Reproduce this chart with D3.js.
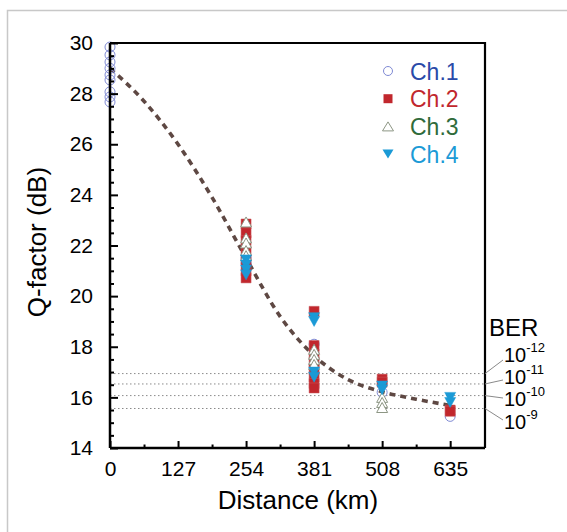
<!DOCTYPE html>
<html><head><meta charset="utf-8">
<script src="https://cdn.jsdelivr.net/npm/d3@7"></script>
<style>body{margin:0;background:#fff;}svg{display:block;font-family:"Liberation Sans",Arial,sans-serif;}</style>
</head><body>
<svg id="c" width="567" height="532"></svg>
<script>
// ---- data ----
const xTicks = [0, 127, 254, 381, 508, 635];
const yTicks = [14, 16, 18, 20, 22, 24, 26, 28, 30];
const channels = ["Ch.1", "Ch.2", "Ch.3", "Ch.4"];
const ch1Dist = [0, 0, 0, 0, 0, 0, 0, 0, 0, 254, 254, 381, 508, 635];
const ch1Q    = [29.84, 29.53, 29.25, 29.0, 28.74, 28.54, 28.07, 27.87, 27.67, 21.5, 21.3, 18.1, 16.2, 15.25];
const ch2Dist = [254, 254, 254, 254, 254, 254, 254, 381, 381, 381, 381, 381, 381, 381, 381, 508, 508, 635, 635];
const ch2Q    = [22.85, 22.5, 22.2, 21.8, 21.4, 21.0, 20.72, 19.4, 18.05, 17.7, 17.4, 17.1, 16.8, 16.55, 16.37, 16.72, 16.6, 15.5, 15.45];
const ch3Dist = [254, 254, 254, 254, 254, 381, 381, 381, 381, 508, 508, 508];
const ch3Q    = [22.93, 22.3, 22.1, 21.8, 21.6, 17.9, 17.7, 17.5, 17.3, 16.0, 15.8, 15.6];
const ch4Dist = [254, 254, 254, 254, 381, 381, 381, 381, 508, 508, 635, 635];
const ch4Q    = [21.43, 21.23, 21.03, 20.84, 19.15, 19.0, 17.0, 16.8, 16.45, 16.3, 16.0, 15.8];
const fitDist = [0, 63.5, 127, 190.5, 254, 317.5, 381, 444.5, 508, 571.5, 635];
const fitQ    = [29.0, 27.7, 26.0, 23.9, 21.5, 19.2, 17.65, 16.7, 16.22, 15.93, 15.68];
const berExp  = [-12, -11, -10, -9];
const berQ    = [16.94, 16.53, 16.07, 15.56];

// ---- layout ----
const svg = d3.select("#c");
const L = 110, R = 485, T = 43, B = 448;
const x = d3.scaleLinear().domain([0, 700]).range([L, R]);
const y = d3.scaleLinear().domain([14, 30]).range([B, T]);
const txtCol = ["#2a4aa8", "#c1272d", "#2f6b3a", "#1b9ad6"];

// outer border (left + top only visible)
svg.append("path").attr("d", `M7.5,540 L7.5,10.5 L580,10.5`).attr("fill", "none")
  .attr("stroke", "#c8c8c8").attr("stroke-width", 1.5);

// BER dotted lines
svg.append("g").selectAll("line").data(berQ).join("line")
  .attr("x1", L).attr("x2", R).attr("y1", d => y(d)).attr("y2", d => y(d))
  .attr("stroke", "#8a8a8a").attr("stroke-width", 1).attr("stroke-dasharray", "1.5,2.5");

// fit curve
const fit = fitDist.map((d, i) => [d, fitQ[i]]);
svg.append("path").datum(fit)
  .attr("d", d3.line().x(d => x(d[0])).y(d => y(d[1])).curve(d3.curveMonotoneX))
  .attr("fill", "none").attr("stroke", "#5e4843").attr("stroke-width", 3.6)
  .attr("stroke-dasharray", "6,5");

// markers
function sq(s){return `M${-s/2},${-s/2}h${s}v${s}h${-s}Z`;}
function triUp(w,h){return `M0,${-h/2}L${w/2},${h/2}L${-w/2},${h/2}Z`;}
function triDn(w,h){return `M0,${h/2}L${w/2},${-h/2}L${-w/2},${-h/2}Z`;}
const g = svg.append("g");
g.append("g").selectAll("circle").data(ch1Dist.map((d,i)=>[d,ch1Q[i]])).join("circle")
  .attr("cx", d => x(d[0])).attr("cy", d => y(d[1])).attr("r", 5)
  .attr("fill", "none").attr("stroke", "#7f8ad4").attr("stroke-width", 1);
g.append("g").selectAll("path").data(ch2Dist.map((d,i)=>[d,ch2Q[i]])).join("path")
  .attr("transform", d => `translate(${x(d[0])},${y(d[1])})`).attr("d", sq(10))
  .attr("fill", "#c1272d").attr("stroke", "#c95a5e").attr("stroke-width", 0.5);
g.append("g").selectAll("path").data(ch3Dist.map((d,i)=>[d,ch3Q[i]])).join("path")
  .attr("transform", d => `translate(${x(d[0])},${y(d[1])})`).attr("d", triUp(11, 10))
  .attr("fill", "#fff").attr("stroke", "#8d9684").attr("stroke-width", 1);
g.append("g").selectAll("path").data(ch4Dist.map((d,i)=>[d,ch4Q[i]])).join("path")
  .attr("transform", d => `translate(${x(d[0])},${y(d[1])})`).attr("d", triDn(11, 10))
  .attr("fill", "#1b9ad6").attr("stroke", "#1b9ad6").attr("stroke-width", 0.5);

// frame top/right
svg.append("path").attr("d", `M${L},${T}H${R}V${B}`).attr("fill", "none")
  .attr("stroke", "#000").attr("stroke-width", 2.2);

// axes
const xMinor = d3.range(63.5, 635, 127);
svg.append("g").attr("transform", `translate(0,${B})`)
  .call(d3.axisBottom(x).tickValues(xMinor).tickSize(-3.5).tickFormat(""))
  .call(a => a.select(".domain").remove())
  .selectAll("line").attr("stroke-width", 2);
const xa = svg.append("g").attr("transform", `translate(0,${B})`)
  .call(d3.axisBottom(x).tickValues(xTicks).tickSize(-7).tickPadding(13).tickFormat(d3.format("d")));
xa.select(".domain").attr("d", `M${L},0H${R}`).attr("stroke-width", 2.5);
xa.selectAll("line").attr("stroke-width", 2);
xa.selectAll("text").attr("font-size", 21).attr("fill", "#000");

const yMinor = d3.range(14.5, 30, 0.5).filter(v => v % 2 !== 0);
svg.append("g").attr("transform", `translate(${L},0)`)
  .call(d3.axisLeft(y).tickValues(yMinor).tickSize(-4).tickFormat(""))
  .call(a => a.select(".domain").remove())
  .selectAll("line").attr("stroke-width", 2);
const ya = svg.append("g").attr("transform", `translate(${L},0)`)
  .call(d3.axisLeft(y).tickValues(yTicks).tickSize(-8).tickPadding(17).tickFormat(d3.format("d")));
ya.select(".domain").attr("d", `M0,${B}V${T}`).attr("stroke-width", 2.5);
ya.selectAll("line").attr("stroke-width", 2);
ya.selectAll("text").attr("font-size", 21).attr("fill", "#000");

// axis titles
svg.append("text").attr("x", 298).attr("y", 509).attr("text-anchor", "middle")
  .attr("font-size", 26).text("Distance (km)");
svg.append("text").attr("transform", "translate(46,242) rotate(-90)").attr("text-anchor", "middle")
  .attr("font-size", 26).text("Q-factor (dB)");

// legend
const lg = svg.append("g");
channels.forEach((c, i) => {
  const cy = 71 + i * 27.7;
  const m = lg.append("g").attr("transform", `translate(388,${cy})`);
  if (i === 0) m.append("circle").attr("r", 4.5).attr("fill", "none").attr("stroke", "#7f8ad4").attr("stroke-width", 1);
  if (i === 1) m.append("path").attr("d", sq(9)).attr("fill", "#c1272d");
  if (i === 2) m.append("path").attr("d", triUp(11, 9)).attr("fill", "#fff").attr("stroke", "#8d9684").attr("stroke-width", 1);
  if (i === 3) m.append("path").attr("d", triDn(11, 9)).attr("fill", "#1b9ad6");
  lg.append("text").attr("x", 410).attr("y", cy + 8.5).attr("font-size", 23)
    .attr("fill", txtCol[i]).text(c);
});

// BER labels
svg.append("text").attr("x", 489).attr("y", 336).attr("font-size", 24).text("BER");
const labY = [362, 384, 406, 429];
const leadEnd = [360, 380, 398, 420];
berQ.forEach((q, i) => {
  svg.append("line").attr("x1", R).attr("y1", y(q)).attr("x2", 503).attr("y2", leadEnd[i])
    .attr("stroke", "#8a8a8a").attr("stroke-width", 1);
  const t = svg.append("text").attr("x", 504).attr("y", labY[i]).attr("font-size", 20);
  t.append("tspan").text("10");
  t.append("tspan").attr("dy", -10).attr("font-size", 13).text(berExp[i]);
});
</script>
</body></html>
